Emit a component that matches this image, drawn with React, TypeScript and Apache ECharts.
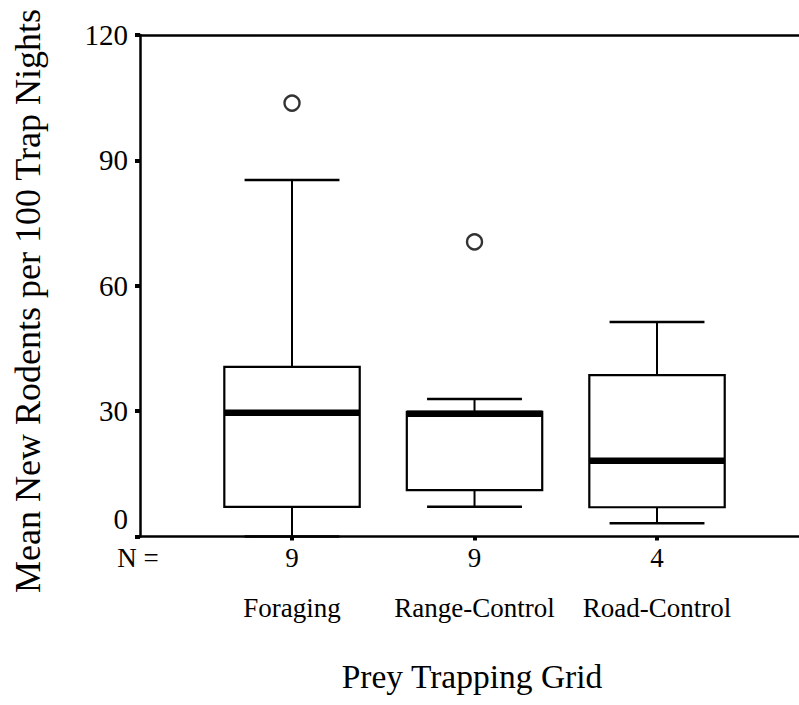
import React, { useEffect, useRef } from "react";
import * as echarts from "echarts";

// Prey trapping grids and their sample sizes
const categories = ["Foraging", "Range-Control", "Road-Control"];
const sampleSizes = [9, 9, 4];

// Box summaries: [low whisker, Q1, median, Q3, high whisker]
const foragingBox = [0, 7.1, 29.6, 40.6, 85.3];
const rangeControlBox = [7.1, 11.1, 29.4, 29.8, 32.9];
const roadControlBox = [3.2, 7.0, 18.1, 38.6, 51.3];

// Outliers: [grid position, value]
const outliers = [
  [1, 103.7],
  [2, 70.5],
];

const yTicks = [0, 30, 60, 90, 120];

const FONT = "Liberation Serif";
const BOX_WIDTH = 0.742;
const CAP_WIDTH = 0.52;

export default function App() {
  const ref = useRef<HTMLDivElement>(null);

  useEffect(() => {
    if (!ref.current) return;
    const chart = echarts.init(ref.current, null, { renderer: "svg" });

    const boxes = [foragingBox, rangeControlBox, roadControlBox].map((b, i) => [i + 1, ...b]);

    const renderBox = (params: any, api: any) => {
      const x = api.value(0);
      const lo = api.coord([x, api.value(1)]);
      const q1 = api.coord([x, api.value(2)]);
      const med = api.coord([x, api.value(3)]);
      const q3 = api.coord([x, api.value(4)]);
      const hi = api.coord([x, api.value(5)]);
      const boxW = api.size([BOX_WIDTH, 0])[0];
      const capW = api.size([CAP_WIDTH, 0])[0];
      const cx = lo[0];
      const stroke = { stroke: "#000", lineWidth: 2 };
      return {
        type: "group",
        children: [
          { type: "line", shape: { x1: cx, y1: q3[1], x2: cx, y2: hi[1] }, style: stroke },
          { type: "line", shape: { x1: cx, y1: q1[1], x2: cx, y2: lo[1] }, style: stroke },
          {
            type: "line",
            shape: { x1: cx - capW / 2, y1: hi[1], x2: cx + capW / 2, y2: hi[1] },
            style: { stroke: "#000", lineWidth: 2.5 },
          },
          {
            type: "line",
            shape: { x1: cx - capW / 2, y1: lo[1], x2: cx + capW / 2, y2: lo[1] },
            style: { stroke: "#000", lineWidth: 2.5 },
          },
          {
            type: "rect",
            shape: { x: cx - boxW / 2, y: q3[1], width: boxW, height: q1[1] - q3[1] },
            style: { fill: "#fff", stroke: "#000", lineWidth: 2.2 },
          },
          {
            type: "line",
            shape: { x1: cx - boxW / 2, y1: med[1], x2: cx + boxW / 2, y2: med[1] },
            style: { stroke: "#000", lineWidth: 6.5 },
          },
        ],
      };
    };

    const xMin = 0.167;
    const xMax = 3.778;
    const tickText = { fontSize: 29, fontFamily: FONT, color: "#000" };

    chart.setOption({
      animation: false,
      backgroundColor: "#fff",
      textStyle: { fontFamily: FONT },
      grid: { left: 140, right: 0, top: 35, bottom: 168.5 },
      xAxis: [
        {
          type: "value",
          min: xMin,
          max: xMax,
          position: "bottom",
          splitLine: { show: false },
          axisLine: { show: true, onZero: false, lineStyle: { color: "#000", width: 2.5 } },
          axisTick: {
            show: true,
            customValues: [1, 2, 3],
            length: 4,
            lineStyle: { color: "#000", width: 4 },
          },
          axisLabel: {
            customValues: [1, 2, 3],
            margin: 6,
            color: "#000",
            fontFamily: FONT,
            formatter: (v: number) => {
              const i = Math.round(v) - 1;
              return `{n|${sampleSizes[i]}}\n{c|${categories[i]}}`;
            },
            rich: {
              n: { fontSize: 27, lineHeight: 30, fontFamily: FONT, color: "#000" },
              c: { fontSize: 27, lineHeight: 70, fontFamily: FONT, color: "#000" },
            },
          },
        },
        {
          type: "value",
          min: xMin,
          max: xMax,
          position: "top",
          splitLine: { show: false },
          axisLine: { show: true, onZero: false, lineStyle: { color: "#000", width: 2.5 } },
          axisTick: { show: false },
          axisLabel: { show: false },
        },
      ],
      yAxis: {
        type: "value",
        min: yTicks[0],
        max: yTicks[yTicks.length - 1],
        interval: 30,
        splitLine: { show: false },
        axisLine: { show: true, lineStyle: { color: "#000", width: 2.5 } },
        axisTick: { show: true, length: 5, lineStyle: { color: "#000", width: 4 } },
        axisLabel: {
          margin: 12,
          color: "#000",
          fontSize: 29,
          fontFamily: FONT,
          formatter: (v: number) => (v === 0 ? "{z|0}" : `{t|${v}}`),
          rich: {
            t: { ...tickText },
            z: { ...tickText, padding: [0, 0, 36, 0] },
          },
        },
      },
      graphic: [
        {
          type: "text",
          x: 28,
          y: 301,
          rotation: Math.PI / 2,
          style: {
            text: "Mean New Rodents per 100 Trap Nights",
            fontSize: 36,
            fontFamily: FONT,
            fill: "#000",
            align: "center",
            verticalAlign: "middle",
          },
        },
        {
          type: "text",
          x: 472,
          y: 676,
          style: {
            text: "Prey Trapping Grid",
            fontSize: 33.5,
            fontFamily: FONT,
            fill: "#000",
            align: "center",
            verticalAlign: "middle",
          },
        },
        {
          type: "text",
          x: 138,
          y: 558,
          style: {
            text: "N =",
            fontSize: 27,
            fontFamily: FONT,
            fill: "#000",
            align: "center",
            verticalAlign: "middle",
          },
        },
      ],
      series: [
        {
          type: "custom",
          renderItem: renderBox,
          encode: { x: 0, y: [1, 2, 3, 4, 5] },
          data: boxes,
          z: 2,
        },
        {
          type: "scatter",
          data: outliers,
          symbol: "circle",
          symbolSize: 15,
          itemStyle: { color: "#fff", borderColor: "#000", borderWidth: 2.4 },
          z: 3,
        },
      ],
    });

    return () => chart.dispose();
  }, []);

  return (
    <div
      ref={ref}
      style={{ position: "absolute", left: 0, top: 0, width: 799, height: 705, background: "#fff" }}
    />
  );
}
